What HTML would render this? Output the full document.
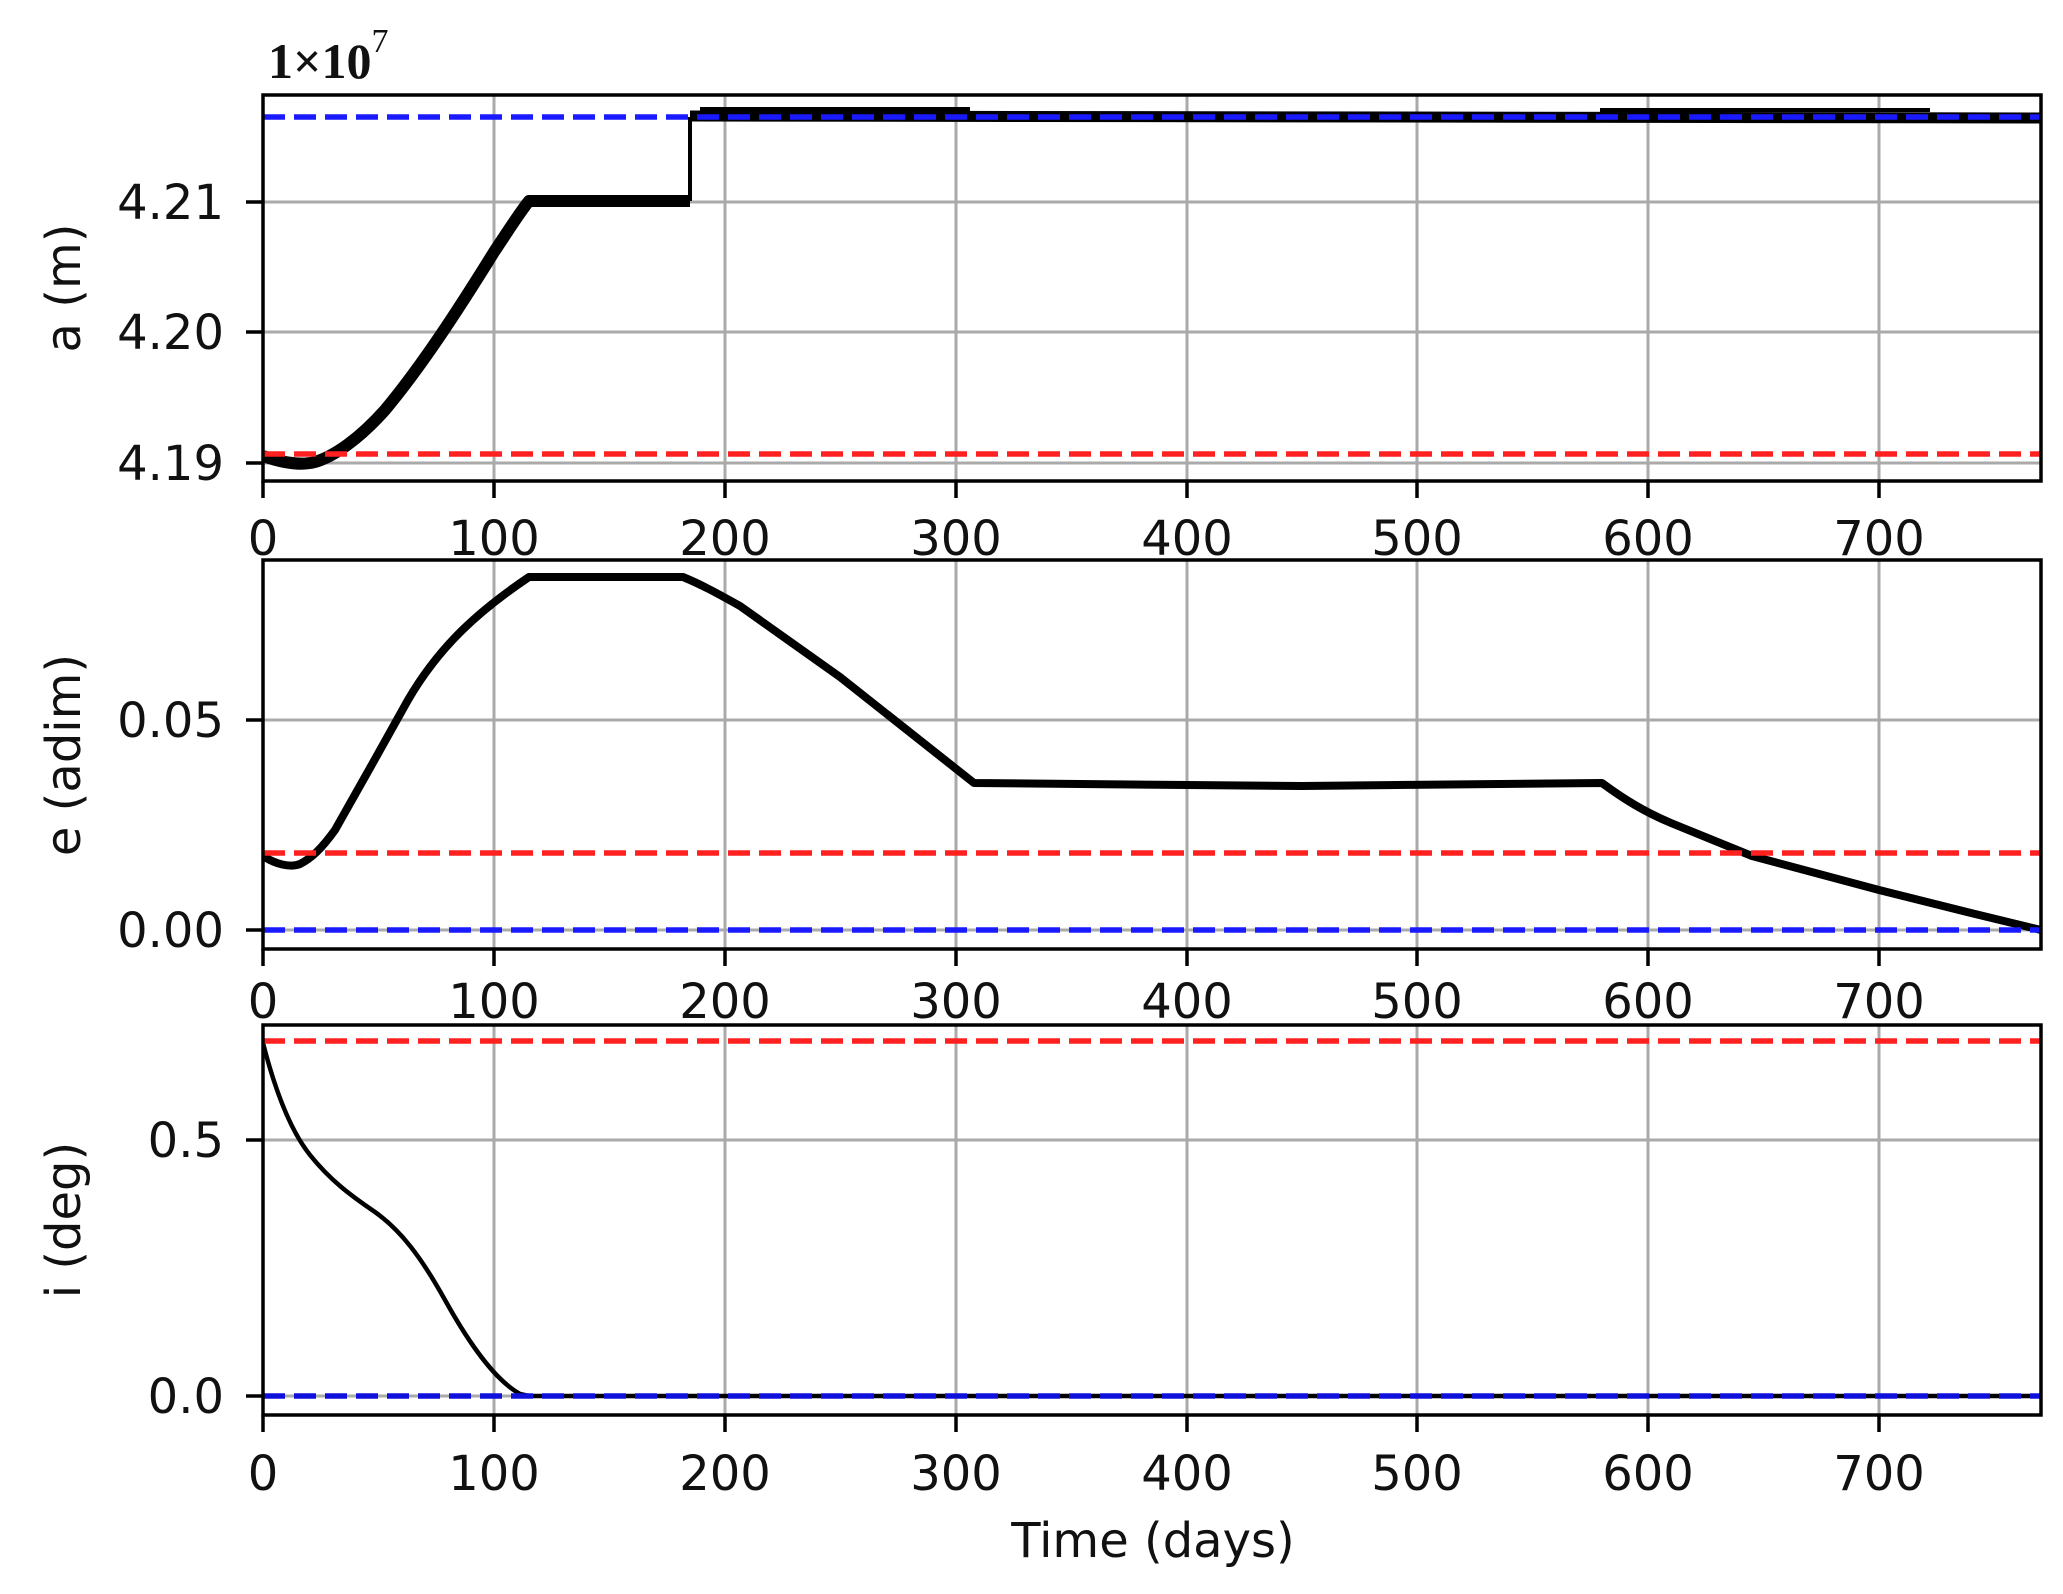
<!DOCTYPE html>
<html><head><meta charset="utf-8"><style>
html,body{margin:0;padding:0;background:#fff;}
svg{display:block;}
text{font-family:"DejaVu Sans","Liberation Sans",sans-serif;fill:#111;}
</style></head><body>
<svg width="2063" height="1594" viewBox="0 0 2063 1594" xmlns="http://www.w3.org/2000/svg">
<defs>
<clipPath id="c1"><rect x="263" y="95" width="1778" height="386"/></clipPath>
<clipPath id="c2"><rect x="263" y="560" width="1778" height="389"/></clipPath>
<clipPath id="c3"><rect x="263" y="1025" width="1778" height="390"/></clipPath>
</defs>
<rect width="2063" height="1594" fill="#fff"/>

<!-- ===== Panel 1 ===== -->
<g stroke="#aaaaaa" stroke-width="3">
<line x1="494" y1="95" x2="494" y2="481"/><line x1="725" y1="95" x2="725" y2="481"/><line x1="956" y1="95" x2="956" y2="481"/><line x1="1187" y1="95" x2="1187" y2="481"/><line x1="1417" y1="95" x2="1417" y2="481"/><line x1="1648" y1="95" x2="1648" y2="481"/><line x1="1879" y1="95" x2="1879" y2="481"/>
<line x1="263" y1="202" x2="2041" y2="202"/><line x1="263" y1="332" x2="2041" y2="332"/><line x1="263" y1="463" x2="2041" y2="463"/>
</g>
<g clip-path="url(#c1)">
<path fill="none" stroke="#000" stroke-width="12" stroke-linejoin="round" d="M263,456 C280,462 300,466 315,462 C335,456 360,438 385,410 C420,368 455,315 494,252 C510,228 520,212 529,201 L690,201"/>
<polyline fill="none" stroke="#000" stroke-width="4" points="690,201 690,117"/>
<polyline fill="none" stroke="#000" stroke-width="11" points="690,116 2041,118"/>
<polyline fill="none" stroke="#000" stroke-width="4" points="700,109 970,109"/>
<polyline fill="none" stroke="#000" stroke-width="4" points="1600,110 1930,110"/>
<line x1="263" y1="117" x2="2041" y2="117" stroke="#1a1aff" stroke-width="5.5" stroke-dasharray="22 9"/>
<line x1="263" y1="454" x2="2041" y2="454" stroke="#ff2020" stroke-width="5.5" stroke-dasharray="22 9"/>
</g>
<rect x="263" y="95" width="1778" height="386" fill="none" stroke="#000" stroke-width="3.5"/>
<g stroke="#000" stroke-width="3.5">
<line x1="263" y1="481" x2="263" y2="498"/><line x1="494" y1="481" x2="494" y2="498"/><line x1="725" y1="481" x2="725" y2="498"/><line x1="956" y1="481" x2="956" y2="498"/><line x1="1187" y1="481" x2="1187" y2="498"/><line x1="1417" y1="481" x2="1417" y2="498"/><line x1="1648" y1="481" x2="1648" y2="498"/><line x1="1879" y1="481" x2="1879" y2="498"/>
<line x1="246" y1="202" x2="263" y2="202"/><line x1="246" y1="332" x2="263" y2="332"/><line x1="246" y1="463" x2="263" y2="463"/>
</g>
<g font-size="48" text-anchor="middle">
<text x="263" y="555">0</text><text x="494" y="555">100</text><text x="725" y="555">200</text><text x="956" y="555">300</text><text x="1187" y="555">400</text><text x="1417" y="555">500</text><text x="1648" y="555">600</text><text x="1879" y="555">700</text>
</g>
<g font-size="48" text-anchor="end">
<text x="224" y="219">4.21</text><text x="224" y="349">4.20</text><text x="224" y="480">4.19</text>
</g>
<text x="80" y="288" font-size="48" text-anchor="middle" transform="rotate(-90 80 288)">a (m)</text>
<text x="268" y="78" font-size="50" font-weight="bold" style="font-family:'Liberation Serif',serif">1×10<tspan dy="-26" font-size="34" font-weight="normal">7</tspan></text>

<!-- ===== Panel 2 ===== -->
<g stroke="#aaaaaa" stroke-width="3">
<line x1="494" y1="560" x2="494" y2="949"/><line x1="725" y1="560" x2="725" y2="949"/><line x1="956" y1="560" x2="956" y2="949"/><line x1="1187" y1="560" x2="1187" y2="949"/><line x1="1417" y1="560" x2="1417" y2="949"/><line x1="1648" y1="560" x2="1648" y2="949"/><line x1="1879" y1="560" x2="1879" y2="949"/>
<line x1="263" y1="720" x2="2041" y2="720"/><line x1="263" y1="930" x2="2041" y2="930"/>
</g>
<g clip-path="url(#c2)">
<path fill="none" stroke="#000" stroke-width="8" stroke-linejoin="round" d="M263,856 C275,864 290,868 300,864 C312,858 322,848 335,830 L370,768 L408,700 C440,645 480,610 529,577 L683,577 C700,584 715,592 740,606 L840,677 L974,783 L1187,785 L1302,786 L1602,783 C1625,800 1645,812 1671,823 L1752,856 L1879,890 L1971,913 L2041,930"/>
<line x1="263" y1="853" x2="2041" y2="853" stroke="#ff2020" stroke-width="5.5" stroke-dasharray="22 9"/>
<line x1="263" y1="930" x2="2041" y2="930" stroke="#1a1aff" stroke-width="5.5" stroke-dasharray="22 9"/>
</g>
<rect x="263" y="560" width="1778" height="389" fill="none" stroke="#000" stroke-width="3.5"/>
<g stroke="#000" stroke-width="3.5">
<line x1="263" y1="949" x2="263" y2="966"/><line x1="494" y1="949" x2="494" y2="966"/><line x1="725" y1="949" x2="725" y2="966"/><line x1="956" y1="949" x2="956" y2="966"/><line x1="1187" y1="949" x2="1187" y2="966"/><line x1="1417" y1="949" x2="1417" y2="966"/><line x1="1648" y1="949" x2="1648" y2="966"/><line x1="1879" y1="949" x2="1879" y2="966"/>
<line x1="246" y1="720" x2="263" y2="720"/><line x1="246" y1="930" x2="263" y2="930"/>
</g>
<g font-size="48" text-anchor="middle">
<text x="263" y="1018">0</text><text x="494" y="1018">100</text><text x="725" y="1018">200</text><text x="956" y="1018">300</text><text x="1187" y="1018">400</text><text x="1417" y="1018">500</text><text x="1648" y="1018">600</text><text x="1879" y="1018">700</text>
</g>
<g font-size="48" text-anchor="end">
<text x="224" y="737">0.05</text><text x="224" y="947">0.00</text>
</g>
<text x="80" y="755" font-size="48" text-anchor="middle" transform="rotate(-90 80 755)">e (adim)</text>

<!-- ===== Panel 3 ===== -->
<g stroke="#aaaaaa" stroke-width="3">
<line x1="494" y1="1025" x2="494" y2="1415"/><line x1="725" y1="1025" x2="725" y2="1415"/><line x1="956" y1="1025" x2="956" y2="1415"/><line x1="1187" y1="1025" x2="1187" y2="1415"/><line x1="1417" y1="1025" x2="1417" y2="1415"/><line x1="1648" y1="1025" x2="1648" y2="1415"/><line x1="1879" y1="1025" x2="1879" y2="1415"/>
<line x1="263" y1="1140" x2="2041" y2="1140"/><line x1="263" y1="1396" x2="2041" y2="1396"/>
</g>
<g clip-path="url(#c3)">
<path fill="none" stroke="#000" stroke-width="4.5" stroke-linejoin="round" d="M263,1043 C275,1090 290,1130 310,1155 C330,1180 350,1195 375,1212 C400,1230 420,1255 445,1300 C470,1345 495,1380 520,1394 L529,1396 L2041,1396"/>
<line x1="263" y1="1041" x2="2041" y2="1041" stroke="#ff2020" stroke-width="5.5" stroke-dasharray="22 9"/>
<line x1="263" y1="1396" x2="2041" y2="1396" stroke="#1010dd" stroke-width="5.5" stroke-dasharray="22 9"/>
</g>
<rect x="263" y="1025" width="1778" height="390" fill="none" stroke="#000" stroke-width="3.5"/>
<g stroke="#000" stroke-width="3.5">
<line x1="263" y1="1415" x2="263" y2="1432"/><line x1="494" y1="1415" x2="494" y2="1432"/><line x1="725" y1="1415" x2="725" y2="1432"/><line x1="956" y1="1415" x2="956" y2="1432"/><line x1="1187" y1="1415" x2="1187" y2="1432"/><line x1="1417" y1="1415" x2="1417" y2="1432"/><line x1="1648" y1="1415" x2="1648" y2="1432"/><line x1="1879" y1="1415" x2="1879" y2="1432"/>
<line x1="246" y1="1140" x2="263" y2="1140"/><line x1="246" y1="1396" x2="263" y2="1396"/>
</g>
<g font-size="48" text-anchor="middle">
<text x="263" y="1490">0</text><text x="494" y="1490">100</text><text x="725" y="1490">200</text><text x="956" y="1490">300</text><text x="1187" y="1490">400</text><text x="1417" y="1490">500</text><text x="1648" y="1490">600</text><text x="1879" y="1490">700</text>
</g>
<g font-size="48" text-anchor="end">
<text x="224" y="1157">0.5</text><text x="224" y="1413">0.0</text>
</g>
<text x="80" y="1220" font-size="48" text-anchor="middle" transform="rotate(-90 80 1220)">i (deg)</text>
<text x="1153" y="1557" font-size="48" text-anchor="middle">Time (days)</text>
</svg>
</body></html>
